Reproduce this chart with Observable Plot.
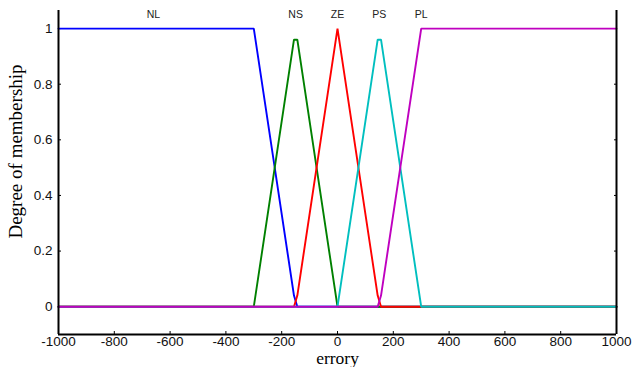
<!DOCTYPE html>
<html>
<head>
<meta charset="utf-8">
<script src="https://cdn.jsdelivr.net/npm/d3@7"></script>
<script src="https://cdn.jsdelivr.net/npm/@observablehq/plot@0.6"></script>
<style>
  html, body { margin: 0; padding: 0; background: #fff; }
  svg { display: block; }
</style>
</head>
<body>
<div id="chart"></div>
<script>
// Membership functions of the input "errory" (polyline vertices)
const nlX = [-1000, -300, -156, -144, 1000];
const nlY = [1, 1, 0.04, 0, 0];
const nsX = [-1000, -300, -156, -144, 0, 1000];
const nsY = [0, 0, 0.96, 0.96, 0, 0];
const zeX = [-1000, -156, -144, 0, 144, 156, 1000];
const zeY = [0, 0, 0.04, 1, 0.04, 0, 0];
const psX = [-1000, 0, 144, 156, 300, 1000];
const psY = [0, 0, 0.96, 0.96, 0, 0];
const plX = [-1000, 144, 156, 300, 1000];
const plY = [0, 0, 0.04, 1, 1];

const setNames = ["NL", "NS", "ZE", "PS", "PL"];
const setColors = ["#0000ff", "#008000", "#ff0000", "#00bfbf", "#bf00bf"];
const labelX = [-660, -150, 0, 150, 300];
const labelY = 1.05;

const xTicks = [-1000, -800, -600, -400, -200, 0, 200, 400, 600, 800, 1000];
const yTicks = [0, 0.2, 0.4, 0.6, 0.8, 1];

const curves = [[nlX, nlY], [nsX, nsY], [zeX, zeY], [psX, psY], [plX, plY]];
const rows = curves.flatMap(([xs, ys], i) =>
  xs.map((x, j) => ({set: setNames[i], x, y: ys[j]})));
const labels = setNames.map((name, i) => ({name, x: labelX[i], y: labelY}));

const tickFont = "Liberation Sans, Arial, sans-serif";
const titleFont = "Liberation Serif, Times New Roman, serif";

const chart = Plot.plot({
  width: 632,
  height: 367,
  marginLeft: 58,
  marginRight: 16,
  marginTop: 10,
  marginBottom: 33,
  style: {background: "#fff", color: "#000", fontFamily: tickFont},
  x: {domain: [-1000, 1000]},
  y: {domain: [-0.1, 1.065]},
  color: {domain: setNames, range: setColors},
  marks: [
    // inward tick marks on the bottom, left and right edges
    Plot.axisX(xTicks, {anchor: "bottom", tickSize: -3, text: null, label: null, stroke: "#000"}),
    Plot.axisY(yTicks, {anchor: "left", tickSize: -3, text: null, label: null, stroke: "#000"}),
    Plot.axisY(yTicks, {anchor: "right", tickSize: -3, text: null, label: null, stroke: "#000"}),
    // tick labels
    Plot.axisX(xTicks, {anchor: "bottom", tickSize: 0, tickPadding: 2, label: null,
      fontSize: 13.5, fill: "#111", tickFormat: d => String(d)}),
    Plot.axisY(yTicks, {anchor: "left", tickSize: 0, tickPadding: 6, label: null,
      fontSize: 13.5, fill: "#111", tickFormat: d => String(d)}),
    // membership curves
    Plot.line(rows, {x: "x", y: "y", z: "set", stroke: "set", strokeWidth: 1.9,
      strokeLinejoin: "miter"}),
    // set names above each function
    Plot.text(labels, {x: "x", y: "y", text: "name", fontSize: 10.5, fill: "#222",
      fontFamily: tickFont}),
    // axis spines
    Plot.ruleX([-1000, 1000], {stroke: "#000", strokeWidth: 2}),
    Plot.ruleY([-0.1], {stroke: "#000", strokeWidth: 2}),
    // axis titles
    Plot.text(["errory"], {frameAnchor: "bottom", dy: 29.5, fontSize: 17.5,
      fontFamily: titleFont, fill: "#000"}),
    Plot.text(["Degree of membership"], {frameAnchor: "left", textAnchor: "middle",
      dx: -43, dy: -21, rotate: -90, fontSize: 19, fontFamily: titleFont, fill: "#000"})
  ]
});

document.getElementById("chart").appendChild(chart);
</script>
</body>
</html>
